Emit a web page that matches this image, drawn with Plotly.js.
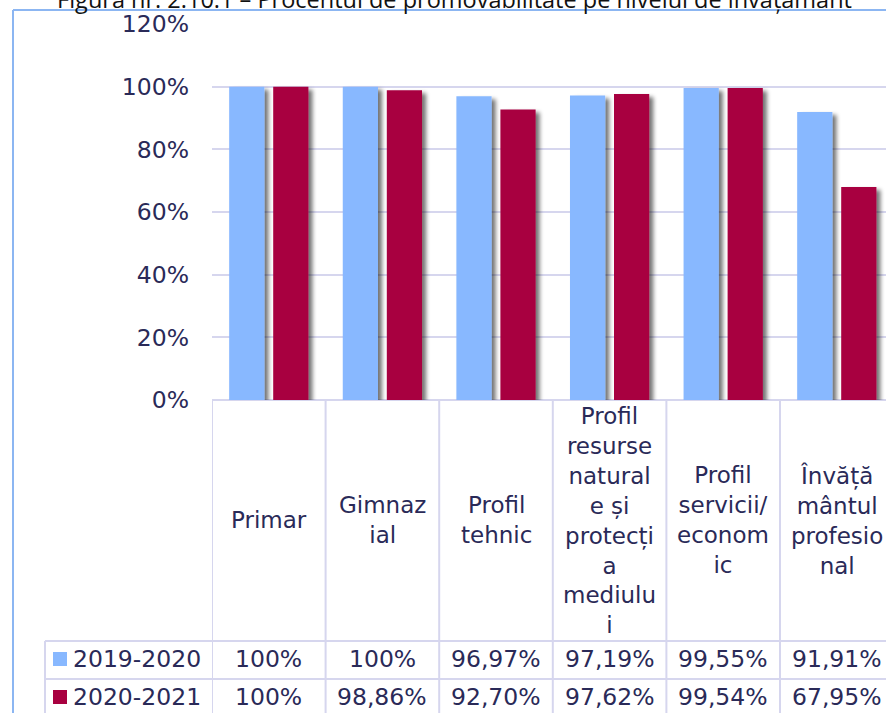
<!DOCTYPE html>
<html>
<head>
<meta charset="utf-8">
<script src="https://cdn.plot.ly/plotly-3.0.1.min.js"></script>
<style>
  html, body { margin: 0; padding: 0; background: #ffffff; }
  #chart { width: 886px; height: 713px; }
  .barlayer .point path { filter: url(#barshadow); }
</style>
</head>
<body>
<svg width="0" height="0" style="position:absolute">
  <defs>
    <filter id="barshadow" x="-20%" y="-5%" width="160%" height="115%">
      <feGaussianBlur in="SourceAlpha" stdDeviation="2" result="blur"/>
      <feOffset in="blur" dx="4" dy="3" result="off"/>
      <feComponentTransfer in="off" result="sh"><feFuncA type="linear" slope="0.55"/></feComponentTransfer>
      <feMerge><feMergeNode in="sh"/><feMergeNode in="SourceGraphic"/></feMerge>
    </filter>
  </defs>
</svg>
<div id="chart"></div>
<script>
// ---- data ----
const titleText = 'Figura nr. 2.10.1 – Procentul de promovabilitate pe nivelul de învățământ';
const categories = ['Primar', 'Gimnazial', 'Profil tehnic',
  'Profil resurse naturale și protecția mediului', 'Profil servicii/economic',
  'Învățământul profesional'];
const categoryLabels = ['Primar', 'Gimnaz<br>ial', 'Profil<br>tehnic',
  'Profil<br>resurse<br>natural<br>e și<br>protecți<br>a<br>mediulu<br>i',
  'Profil<br>servicii/<br>econom<br>ic', 'Învăță<br>mântul<br>profesio<br>nal'];
const seriesNames = ['2019-2020', '2020-2021'];
const values2019 = [100, 100, 96.97, 97.19, 99.55, 91.91];
const values2020 = [100, 98.86, 92.70, 97.62, 99.54, 67.95];
const seriesColors = ['#88b8ff', '#a80040'];
const yTicks = [0, 20, 40, 60, 80, 100, 120];

// ---- layout geometry (pixels) ----
const W = 886, H = 713;
const L = 212, T = 24, PB = 400;           // plot left, top, bottom
const PW = W - L, PH = PB - T;
const catW = 113.6;
const xp = px => (px - L) / PW;
const yp = py => (PB - py) / PH;
const textColor = '#2a2a58';
const lineColor = '#d6d6ee';
const frameColor = '#8cb6f2';
const FONT = 'DejaVu Sans, Verdana, sans-serif';

function fmt(v) {
  return v === 100 ? '100%' : v.toFixed(2).replace('.', ',') + '%';
}

const traces = [values2019, values2020].map((vals, k) => ({
  type: 'bar',
  name: seriesNames[k],
  x: categories,
  y: vals,
  marker: { color: seriesColors[k], line: { width: 0 } },
  hoverinfo: 'x+y+name',
  showlegend: false
}));

const shapes = [];
const annotations = [];

// table vertical lines at category boundaries
for (let i = 0; i <= categories.length; i++) {
  shapes.push({ type: 'line', xref: 'x', yref: 'paper', x0: i - 0.5, x1: i - 0.5,
    y0: yp(PB), y1: yp(H + 20), line: { color: lineColor, width: 2 }, layer: 'below' });
}
// table horizontal row lines
const rowTops = [641, 679, 717];
rowTops.forEach(ry => {
  shapes.push({ type: 'line', xref: 'paper', yref: 'paper', x0: xp(45), x1: 1.01,
    y0: yp(ry), y1: yp(ry), line: { color: lineColor, width: 2 }, layer: 'below' });
});
// legend column left border
shapes.push({ type: 'line', xref: 'paper', yref: 'paper', x0: xp(45), x1: xp(45),
  y0: yp(641), y1: yp(H + 20), line: { color: lineColor, width: 2 }, layer: 'below' });
// outer chart frame
shapes.push({ type: 'line', xref: 'paper', yref: 'paper', x0: xp(13), x1: xp(13),
  y0: yp(10), y1: yp(H + 20), line: { color: frameColor, width: 2 }, layer: 'below' });
shapes.push({ type: 'line', xref: 'paper', yref: 'paper', x0: xp(13), x1: 1.01,
  y0: yp(10), y1: yp(10), line: { color: frameColor, width: 2 }, layer: 'below' });

// category header labels
categories.forEach((c, i) => {
  annotations.push({ xref: 'x', yref: 'paper', x: c, y: yp(520), xanchor: 'center', yanchor: 'middle',
    text: categoryLabels[i], showarrow: false, align: 'center',
    font: { family: FONT, size: 23, color: textColor } });
});
// value rows + legend keys
const rowCenters = [659, 697];
[values2019, values2020].forEach((vals, k) => {
  const cy = rowCenters[k];
  vals.forEach((v, i) => {
    annotations.push({ xref: 'x', yref: 'paper', x: categories[i], y: yp(cy), xanchor: 'center', yanchor: 'middle',
      text: fmt(v), showarrow: false, font: { family: FONT, size: 23.5, color: textColor } });
  });
  annotations.push({ xref: 'paper', yref: 'paper', x: xp(71), y: yp(cy), xanchor: 'left', yanchor: 'middle',
    text: seriesNames[k], showarrow: false, font: { family: FONT, size: 23.5, color: textColor } });
  shapes.push({ type: 'rect', xref: 'paper', yref: 'paper', x0: xp(53), x1: xp(67),
    y0: yp(cy - 7), y1: yp(cy + 7), fillcolor: seriesColors[k], line: { width: 0 } });
});

const layout = {
  width: W, height: H,
  margin: { l: L, r: 0, t: T, b: H - PB, pad: 0 },
  paper_bgcolor: '#ffffff', plot_bgcolor: '#ffffff',
  title: { text: titleText, x: 0.513, xanchor: 'center', y: 1, yanchor: 'middle', yref: 'container',
    font: { family: 'Open Sans, sans-serif', size: 23.5, color: '#111111' } },
  barmode: 'group', bargap: 0.225, bargroupgap: 0.2,
  xaxis: { type: 'category', range: [-0.5, -0.5 + PW / catW], showticklabels: false,
    showgrid: false, zeroline: false, showline: false, ticks: '', fixedrange: true },
  yaxis: { range: [0, 120], tickvals: yTicks, ticktext: yTicks.map(t => t + '%'),
    showgrid: true, gridcolor: lineColor, gridwidth: 2,
    zeroline: true, zerolinecolor: lineColor, zerolinewidth: 2,
    showline: false, ticks: '', ticklabelstandoff: 22,
    tickfont: { family: FONT, size: 23.5, color: textColor }, fixedrange: true },
  shapes: shapes,
  annotations: annotations
};

Plotly.newPlot('chart', traces, layout, { displayModeBar: false, staticPlot: true });
</script>
</body>
</html>
